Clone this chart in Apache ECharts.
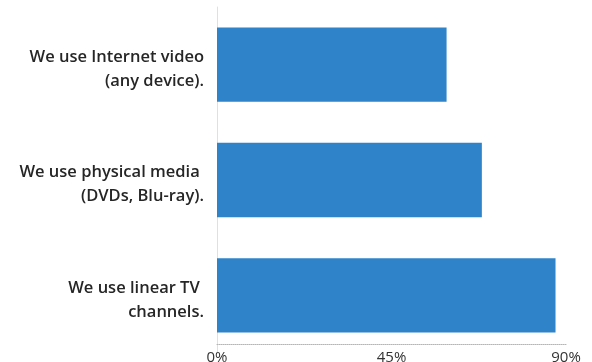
<!DOCTYPE html>
<html>
<head>
    <meta http-equiv="Content-Type" content="text/html; charset=utf-8"/>
    <title>Video usage</title>
    <style type="text/css">
        html, body { margin: 0; padding: 0; background: #fff; }
        #container { width: 592px; height: 362px; }
    </style>
</head>
<body>
<div id="container"></div>
<script src="https://cdn.jsdelivr.net/npm/echarts@6/dist/echarts.min.js"></script>
<script type="text/javascript">
    // categories top to bottom
    var categories = [
        'We use Internet video\n(any device).',
        'We use physical media \n(DVDs, Blu-ray).',
        'We use linear TV \nchannels.'
    ];
    // share in percent
    var values = [59.2, 68.3, 87.3];
    var tickMin = 0, tickMax = 90, tickStep = 45;

    var myChart = echarts.init(document.getElementById('container'));
    var option = {
        animation: false,
        grid: { left: 217, right: 26, top: 7, bottom: 9, outerBoundsMode: 'none' },
        xAxis: {
            type: 'value',
            min: tickMin,
            max: tickMax,
            interval: tickStep,
            offset: -9,
            axisLine: { show: true, lineStyle: { color: '#b5b5b5', type: 'dotted', width: 1 } },
            axisTick: { show: false },
            splitLine: { show: false },
            axisLabel: {
                formatter: '{value}%',
                fontFamily: 'Open Sans',
                fontSize: 15,
                color: '#333',
                margin: 6
            }
        },
        yAxis: {
            type: 'category',
            inverse: true,
            data: categories,
            axisLine: { show: true, lineStyle: { color: '#e0e0e0', width: 1 } },
            axisTick: { show: false },
            axisLabel: {
                margin: 13,
                align: 'right',
                // small spacer line on top pushes the text a little below the bar centre
                formatter: function (v) {
                    return '{s| }\n{t|' + v.split('\n').join('}\n{t|') + '}';
                },
                rich: {
                    s: { fontSize: 1, lineHeight: 9, align: 'right' },
                    t: {
                        fontFamily: 'Open Sans',
                        fontWeight: 600,
                        fontSize: 16.5,
                        lineHeight: 24,
                        color: '#262626',
                        align: 'right'
                    }
                }
            }
        },
        series: [{
            type: 'bar',
            data: values,
            barWidth: '64.5%',
            itemStyle: { color: '#2e83c9' }
        }]
    };
    myChart.setOption(option);
</script>
</body>
</html>
